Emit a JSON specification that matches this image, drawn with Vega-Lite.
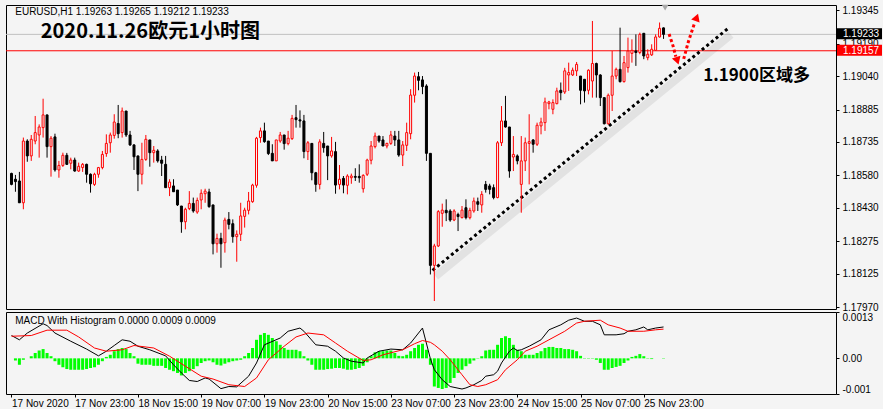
{
  "$schema": "https://vega.github.io/schema/vega-lite/v6.json",
  "background": "#f4f4f4",
  "padding": {"left": 5, "top": 4, "right": 0, "bottom": 0},
  "bounds": "flush",
  "spacing": 3,
  "config": {
    "view": {"stroke": "#000000", "strokeWidth": 1},
    "axis": {"labelFont": "Liberation Sans", "labelFontSize": 10, "labelColor": "#000000", "tickColor": "#000000", "domain": false, "grid": false, "labelOverlap": false, "labelBound": false},
    "text": {"font": "Liberation Sans"}
  },
  "datasets": {
    "bars": [
      {"i":0,"o":1.18589,"h":1.18592,"l":1.18534,"c":1.18538,"m":0},
      {"i":1,"o":1.18562,"h":1.18582,"l":1.18504,"c":1.18551,"m":-0.00006},
      {"i":2,"o":1.18554,"h":1.18596,"l":1.18453,"c":1.18453,"m":-0.00018},
      {"i":3,"o":1.18453,"h":1.18755,"l":1.18423,"c":1.18739,"m":-0.00004},
      {"i":4,"o":1.18739,"h":1.18747,"l":1.18643,"c":1.18670,"m":0},
      {"i":5,"o":1.18670,"h":1.18767,"l":1.18647,"c":1.18747,"m":0.00006},
      {"i":6,"o":1.18739,"h":1.18855,"l":1.18724,"c":1.18778,"m":0.00015},
      {"i":7,"o":1.18767,"h":1.18816,"l":1.18662,"c":1.18804,"m":0.00022},
      {"i":8,"o":1.18801,"h":1.18935,"l":1.18755,"c":1.18860,"m":0.00026},
      {"i":9,"o":1.18860,"h":1.18860,"l":1.18662,"c":1.18713,"m":0.00015},
      {"i":10,"o":1.18713,"h":1.18762,"l":1.18574,"c":1.18752,"m":0.00006},
      {"i":11,"o":1.18758,"h":1.18773,"l":1.18597,"c":1.18605,"m":-0.00008},
      {"i":12,"o":1.18605,"h":1.18647,"l":1.18569,"c":1.18626,"m":-0.00018},
      {"i":13,"o":1.18626,"h":1.18685,"l":1.18619,"c":1.18673,"m":-0.00025},
      {"i":14,"o":1.18673,"h":1.18684,"l":1.18628,"c":1.18631,"m":-0.00030},
      {"i":15,"o":1.18636,"h":1.18662,"l":1.18608,"c":1.18651,"m":-0.00032},
      {"i":16,"o":1.18651,"h":1.18662,"l":1.18597,"c":1.18600,"m":-0.00032},
      {"i":17,"o":1.18600,"h":1.18639,"l":1.18596,"c":1.18622,"m":-0.00032},
      {"i":18,"o":1.18616,"h":1.18637,"l":1.18596,"c":1.18631,"m":-0.00032},
      {"i":19,"o":1.18631,"h":1.18634,"l":1.18546,"c":1.18585,"m":-0.00030},
      {"i":20,"o":1.18585,"h":1.18589,"l":1.18500,"c":1.18541,"m":-0.00027},
      {"i":21,"o":1.18538,"h":1.18592,"l":1.18531,"c":1.18585,"m":-0.00025},
      {"i":22,"o":1.18585,"h":1.18619,"l":1.18569,"c":1.18616,"m":-0.00018},
      {"i":23,"o":1.18616,"h":1.18693,"l":1.18608,"c":1.18677,"m":-0.00008},
      {"i":24,"o":1.18681,"h":1.18770,"l":1.18666,"c":1.18728,"m":0.00004},
      {"i":25,"o":1.18731,"h":1.18778,"l":1.18685,"c":1.18767,"m":0.00010},
      {"i":26,"o":1.18765,"h":1.18863,"l":1.18750,"c":1.18827,"m":0.00020},
      {"i":27,"o":1.18820,"h":1.18906,"l":1.18752,"c":1.18773,"m":0.00026},
      {"i":28,"o":1.18778,"h":1.18894,"l":1.18755,"c":1.18878,"m":0.00029},
      {"i":29,"o":1.18878,"h":1.18878,"l":1.18758,"c":1.18767,"m":0.00026},
      {"i":30,"o":1.18767,"h":1.18786,"l":1.18716,"c":1.18721,"m":0.00015},
      {"i":31,"o":1.18721,"h":1.18724,"l":1.18605,"c":1.18666,"m":0.00006},
      {"i":32,"o":1.18670,"h":1.18670,"l":1.18507,"c":1.18585,"m":-0.00015},
      {"i":33,"o":1.18585,"h":1.18731,"l":1.18538,"c":1.18654,"m":-0.00018},
      {"i":34,"o":1.18654,"h":1.18767,"l":1.18647,"c":1.18747,"m":-0.00018},
      {"i":35,"o":1.18744,"h":1.18744,"l":1.18620,"c":1.18685,"m":-0.00018},
      {"i":36,"o":1.18685,"h":1.18716,"l":1.18639,"c":1.18696,"m":-0.00021},
      {"i":37,"o":1.18693,"h":1.18701,"l":1.18639,"c":1.18647,"m":-0.00021},
      {"i":38,"o":1.18651,"h":1.18670,"l":1.18577,"c":1.18636,"m":-0.00021},
      {"i":39,"o":1.18631,"h":1.18670,"l":1.18523,"c":1.18523,"m":-0.00027},
      {"i":40,"o":1.18523,"h":1.18562,"l":1.18484,"c":1.18549,"m":-0.00032},
      {"i":41,"o":1.18531,"h":1.18562,"l":1.18503,"c":1.18504,"m":-0.00036},
      {"i":42,"o":1.18512,"h":1.18512,"l":1.18438,"c":1.18443,"m":-0.00041},
      {"i":43,"o":1.18438,"h":1.18438,"l":1.18314,"c":1.18365,"m":-0.00048},
      {"i":44,"o":1.18365,"h":1.18430,"l":1.18330,"c":1.18423,"m":-0.00041},
      {"i":45,"o":1.18426,"h":1.18507,"l":1.18419,"c":1.18450,"m":-0.00036},
      {"i":46,"o":1.18450,"h":1.18477,"l":1.18407,"c":1.18415,"m":-0.00030},
      {"i":47,"o":1.18410,"h":1.18477,"l":1.18402,"c":1.18464,"m":-0.00022},
      {"i":48,"o":1.18466,"h":1.18515,"l":1.18423,"c":1.18497,"m":-0.00013},
      {"i":49,"o":1.18495,"h":1.18518,"l":1.18453,"c":1.18507,"m":-0.00008},
      {"i":50,"o":1.18503,"h":1.18518,"l":1.18430,"c":1.18435,"m":-0.00006},
      {"i":51,"o":1.18443,"h":1.18443,"l":1.18214,"c":1.18263,"m":-0.00011},
      {"i":52,"o":1.18263,"h":1.18310,"l":1.18222,"c":1.18288,"m":-0.00018},
      {"i":53,"o":1.18288,"h":1.18314,"l":1.18152,"c":1.18263,"m":-0.00020},
      {"i":54,"o":1.18268,"h":1.18384,"l":1.18222,"c":1.18373,"m":-0.00015},
      {"i":55,"o":1.18376,"h":1.18410,"l":1.18330,"c":1.18353,"m":-0.00011},
      {"i":56,"o":1.18356,"h":1.18376,"l":1.18268,"c":1.18296,"m":-0.00008},
      {"i":57,"o":1.18296,"h":1.18325,"l":1.18180,"c":1.18307,"m":-0.00006},
      {"i":58,"o":1.18307,"h":1.18453,"l":1.18276,"c":1.18392,"m":-0.00004},
      {"i":59,"o":1.18390,"h":1.18430,"l":1.18338,"c":1.18419,"m":0.00006},
      {"i":60,"o":1.18418,"h":1.18503,"l":1.18399,"c":1.18461,"m":0.00015},
      {"i":61,"o":1.18458,"h":1.18541,"l":1.18453,"c":1.18535,"m":0.00029},
      {"i":62,"o":1.18534,"h":1.18758,"l":1.18523,"c":1.18752,"m":0.00052},
      {"i":63,"o":1.18755,"h":1.18801,"l":1.18731,"c":1.18786,"m":0.00066},
      {"i":64,"o":1.18786,"h":1.18824,"l":1.18731,"c":1.18736,"m":0.00071},
      {"i":65,"o":1.18739,"h":1.18739,"l":1.18674,"c":1.18681,"m":0.00066},
      {"i":66,"o":1.18682,"h":1.18724,"l":1.18647,"c":1.18647,"m":0.00057},
      {"i":67,"o":1.18647,"h":1.18744,"l":1.18647,"c":1.18744,"m":0.00048},
      {"i":68,"o":1.18739,"h":1.18781,"l":1.18731,"c":1.18767,"m":0.00038},
      {"i":69,"o":1.18767,"h":1.18767,"l":1.18699,"c":1.18727,"m":0.00029},
      {"i":70,"o":1.18727,"h":1.18786,"l":1.18719,"c":1.18752,"m":0.00024},
      {"i":71,"o":1.18750,"h":1.18860,"l":1.18744,"c":1.18844,"m":0.00024},
      {"i":72,"o":1.18847,"h":1.18906,"l":1.18801,"c":1.18838,"m":0.00024},
      {"i":73,"o":1.18837,"h":1.18881,"l":1.18801,"c":1.18832,"m":0.00020},
      {"i":74,"o":1.18832,"h":1.18860,"l":1.18659,"c":1.18690,"m":0.00006},
      {"i":75,"o":1.18690,"h":1.18739,"l":1.18651,"c":1.18731,"m":-0.00006},
      {"i":76,"o":1.18728,"h":1.18728,"l":1.18557,"c":1.18592,"m":-0.00018},
      {"i":77,"o":1.18592,"h":1.18596,"l":1.18504,"c":1.18538,"m":-0.00032},
      {"i":78,"o":1.18538,"h":1.18747,"l":1.18515,"c":1.18735,"m":-0.00032},
      {"i":79,"o":1.18728,"h":1.18781,"l":1.18685,"c":1.18708,"m":-0.00032},
      {"i":80,"o":1.18716,"h":1.18716,"l":1.18558,"c":1.18670,"m":-0.00030},
      {"i":81,"o":1.18670,"h":1.18758,"l":1.18662,"c":1.18693,"m":-0.00029},
      {"i":82,"o":1.18690,"h":1.18735,"l":1.18495,"c":1.18535,"m":-0.00027},
      {"i":83,"o":1.18538,"h":1.18628,"l":1.18515,"c":1.18562,"m":-0.00027},
      {"i":84,"o":1.18566,"h":1.18577,"l":1.18497,"c":1.18535,"m":-0.00029},
      {"i":85,"o":1.18534,"h":1.18585,"l":1.18492,"c":1.18577,"m":-0.00032},
      {"i":86,"o":1.18569,"h":1.18588,"l":1.18541,"c":1.18577,"m":-0.00032},
      {"i":87,"o":1.18575,"h":1.18613,"l":1.18554,"c":1.18571,"m":-0.00030},
      {"i":88,"o":1.18575,"h":1.18631,"l":1.18546,"c":1.18569,"m":-0.00027},
      {"i":89,"o":1.18518,"h":1.18585,"l":1.18500,"c":1.18580,"m":-0.00021},
      {"i":90,"o":1.18585,"h":1.18657,"l":1.18577,"c":1.18651,"m":-0.00011},
      {"i":91,"o":1.18650,"h":1.18739,"l":1.18631,"c":1.18716,"m":0.00006},
      {"i":92,"o":1.18713,"h":1.18778,"l":1.18705,"c":1.18762,"m":0.00017},
      {"i":93,"o":1.18762,"h":1.18762,"l":1.18731,"c":1.18739,"m":0.00020},
      {"i":94,"o":1.18744,"h":1.18762,"l":1.18716,"c":1.18716,"m":0.00020},
      {"i":95,"o":1.18716,"h":1.18731,"l":1.18705,"c":1.18728,"m":0.00022},
      {"i":96,"o":1.18728,"h":1.18786,"l":1.18721,"c":1.18767,"m":0.00022},
      {"i":97,"o":1.18762,"h":1.18786,"l":1.18716,"c":1.18744,"m":0.00015},
      {"i":98,"o":1.18744,"h":1.18786,"l":1.18666,"c":1.18674,"m":0.00007},
      {"i":99,"o":1.18674,"h":1.18739,"l":1.18623,"c":1.18721,"m":0.00006},
      {"i":100,"o":1.18719,"h":1.18824,"l":1.18693,"c":1.18778,"m":0.00010},
      {"i":101,"o":1.18773,"h":1.18979,"l":1.18747,"c":1.18952,"m":0.00020},
      {"i":102,"o":1.18951,"h":1.19056,"l":1.18917,"c":1.19040,"m":0.00029},
      {"i":103,"o":1.19037,"h":1.19059,"l":1.18974,"c":1.19020,"m":0.00038},
      {"i":104,"o":1.19022,"h":1.19040,"l":1.18956,"c":1.18991,"m":0.00041},
      {"i":105,"o":1.18994,"h":1.19002,"l":1.18647,"c":1.18682,"m":0.00024},
      {"i":106,"o":1.18682,"h":1.18682,"l":1.18121,"c":1.18163,"m":-0.00018},
      {"i":107,"o":1.18163,"h":1.18263,"l":1.17998,"c":1.18253,"m":-0.00079},
      {"i":108,"o":1.18253,"h":1.18419,"l":1.18248,"c":1.18412,"m":-0.00083},
      {"i":109,"o":1.18404,"h":1.18449,"l":1.18342,"c":1.18419,"m":-0.00086},
      {"i":110,"o":1.18418,"h":1.18469,"l":1.18368,"c":1.18407,"m":-0.00083},
      {"i":111,"o":1.18415,"h":1.18423,"l":1.18365,"c":1.18373,"m":-0.00069},
      {"i":112,"o":1.18373,"h":1.18423,"l":1.18368,"c":1.18415,"m":-0.00055},
      {"i":113,"o":1.18399,"h":1.18407,"l":1.18322,"c":1.18389,"m":-0.00041},
      {"i":114,"o":1.18384,"h":1.18438,"l":1.18381,"c":1.18419,"m":-0.00032},
      {"i":115,"o":1.18430,"h":1.18469,"l":1.18376,"c":1.18384,"m":-0.00022},
      {"i":116,"o":1.18384,"h":1.18430,"l":1.18376,"c":1.18418,"m":-0.00015},
      {"i":117,"o":1.18415,"h":1.18477,"l":1.18407,"c":1.18461,"m":-0.00006},
      {"i":118,"o":1.18458,"h":1.18477,"l":1.18415,"c":1.18446,"m":0.00001},
      {"i":119,"o":1.18443,"h":1.18507,"l":1.18407,"c":1.18492,"m":0.00006},
      {"i":120,"o":1.18538,"h":1.18554,"l":1.18500,"c":1.18515,"m":0.00022},
      {"i":121,"o":1.18531,"h":1.18541,"l":1.18492,"c":1.18515,"m":0.00024},
      {"i":122,"o":1.18523,"h":1.18538,"l":1.18469,"c":1.18477,"m":0.00024},
      {"i":123,"o":1.18477,"h":1.18739,"l":1.18474,"c":1.18731,"m":0.00038},
      {"i":124,"o":1.18731,"h":1.18901,"l":1.18716,"c":1.18832,"m":0.00057},
      {"i":125,"o":1.18832,"h":1.18948,"l":1.18801,"c":1.18804,"m":0.00062},
      {"i":126,"o":1.18804,"h":1.18804,"l":1.18569,"c":1.18600,"m":0.00057},
      {"i":127,"o":1.18665,"h":1.18762,"l":1.18600,"c":1.18677,"m":0.00038},
      {"i":128,"o":1.18670,"h":1.18677,"l":1.18631,"c":1.18647,"m":0.00024},
      {"i":129,"o":1.18538,"h":1.18762,"l":1.18407,"c":1.18647,"m":0.00020},
      {"i":130,"o":1.18647,"h":1.18755,"l":1.18600,"c":1.18731,"m":0.00010},
      {"i":131,"o":1.18728,"h":1.18863,"l":1.18538,"c":1.18736,"m":0.00010},
      {"i":132,"o":1.18744,"h":1.18747,"l":1.18685,"c":1.18724,"m":0.00010},
      {"i":133,"o":1.18724,"h":1.18824,"l":1.18716,"c":1.18812,"m":0.00015},
      {"i":134,"o":1.18809,"h":1.18847,"l":1.18770,"c":1.18827,"m":0.00020},
      {"i":135,"o":1.18824,"h":1.18940,"l":1.18786,"c":1.18920,"m":0.00029},
      {"i":136,"o":1.18912,"h":1.18925,"l":1.18886,"c":1.18920,"m":0.00032},
      {"i":137,"o":1.18886,"h":1.18932,"l":1.18863,"c":1.18917,"m":0.00032},
      {"i":138,"o":1.18912,"h":1.18986,"l":1.18909,"c":1.18971,"m":0.00029},
      {"i":139,"o":1.18974,"h":1.19010,"l":1.18928,"c":1.18963,"m":0.00029},
      {"i":140,"o":1.18966,"h":1.19078,"l":1.18957,"c":1.19064,"m":0.00026},
      {"i":141,"o":1.19045,"h":1.19102,"l":1.18971,"c":1.19056,"m":0.00026},
      {"i":142,"o":1.19045,"h":1.19079,"l":1.19040,"c":1.19067,"m":0.00024},
      {"i":143,"o":1.19064,"h":1.19105,"l":1.19040,"c":1.19094,"m":0.00020},
      {"i":144,"o":1.19040,"h":1.19040,"l":1.18909,"c":1.18974,"m":0.00007},
      {"i":145,"o":1.19025,"h":1.19025,"l":1.18917,"c":1.18971,"m":0.00001},
      {"i":146,"o":1.18974,"h":1.19071,"l":1.18955,"c":1.19067,"m":-0.00001},
      {"i":147,"o":1.19017,"h":1.19295,"l":1.18940,"c":1.19098,"m":-0.00001},
      {"i":148,"o":1.19098,"h":1.19102,"l":1.18940,"c":1.19045,"m":-0.00004},
      {"i":149,"o":1.19045,"h":1.19048,"l":1.18901,"c":1.18940,"m":-0.00013},
      {"i":150,"o":1.18940,"h":1.18940,"l":1.18816,"c":1.18819,"m":-0.00032},
      {"i":151,"o":1.18819,"h":1.18959,"l":1.18816,"c":1.18951,"m":-0.00032},
      {"i":152,"o":1.18951,"h":1.19156,"l":1.18878,"c":1.19040,"m":-0.00027},
      {"i":153,"o":1.19040,"h":1.19079,"l":1.19025,"c":1.19071,"m":-0.00024},
      {"i":154,"o":1.19071,"h":1.19264,"l":1.19010,"c":1.19014,"m":-0.00021},
      {"i":155,"o":1.19014,"h":1.19133,"l":1.19010,"c":1.19102,"m":-0.00013},
      {"i":156,"o":1.19079,"h":1.19218,"l":1.19056,"c":1.19156,"m":-0.00006},
      {"i":157,"o":1.19145,"h":1.19210,"l":1.19102,"c":1.19159,"m":0.00004},
      {"i":158,"o":1.19156,"h":1.19233,"l":1.19087,"c":1.19149,"m":0.00007},
      {"i":159,"o":1.19149,"h":1.19241,"l":1.19141,"c":1.19233,"m":0.00012},
      {"i":160,"o":1.19238,"h":1.19238,"l":1.19118,"c":1.19133,"m":0.00006},
      {"i":161,"o":1.19125,"h":1.19164,"l":1.19113,"c":1.19141,"m":0.00001},
      {"i":162,"o":1.19138,"h":1.19187,"l":1.19133,"c":1.19164,"m":-0.00002},
      {"i":163,"o":1.19159,"h":1.19233,"l":1.19156,"c":1.19221,"m":0},
      {"i":164,"o":1.19221,"h":1.19288,"l":1.19218,"c":1.19261,"m":0},
      {"i":165,"o":1.19263,"h":1.19265,"l":1.19212,"c":1.19233,"m":0.00001}
    ],
    "macd": [
      {"i":0,"v":0.00064},{"i":2,"v":0.00052},{"i":4,"v":0.00071},{"i":8,"v":0.00097},{"i":9,"v":0.00092},
      {"i":11,"v":0.00071},{"i":15,"v":0.00048},{"i":19,"v":0.00026},{"i":22,"v":0.00007},{"i":24,"v":0.00020},
      {"i":26,"v":0.00036},{"i":28,"v":0.00052},{"i":30,"v":0.00048},{"i":32,"v":0.00034},{"i":35,"v":0.00024},
      {"i":39,"v":0.00007},{"i":41,"v":-0.00018},{"i":43,"v":-0.00041},{"i":45,"v":-0.00062},{"i":47,"v":-0.00065},
      {"i":49,"v":-0.00055},{"i":50,"v":-0.00058},{"i":53,"v":-0.00085},{"i":55,"v":-0.00079},{"i":57,"v":-0.00080},
      {"i":60,"v":-0.00050},{"i":62,"v":-0.00013},{"i":64,"v":0.00038},{"i":68,"v":0.00057},{"i":70,"v":0.00076},
      {"i":73,"v":0.00085},{"i":74,"v":0.00076},{"i":77,"v":0.00038},{"i":80,"v":0.00034},{"i":82,"v":0.00020},
      {"i":84,"v":0.00001},{"i":86,"v":-0.00008},{"i":89,"v":-0.00013},{"i":90,"v":0.00001},{"i":93,"v":0.00020},
      {"i":96,"v":0.00026},{"i":99,"v":0.00024},{"i":101,"v":0.00043},{"i":104,"v":0.00085},{"i":106,"v":-0.00001},
      {"i":107,"v":-0.00032},{"i":109,"v":-0.00060},{"i":111,"v":-0.00079},{"i":114,"v":-0.00086},{"i":115,"v":-0.00083},
      {"i":117,"v":-0.00074},{"i":119,"v":-0.00062},{"i":120,"v":-0.00050},{"i":122,"v":-0.00046},{"i":123,"v":-0.00036},
      {"i":124,"v":-0.00013},{"i":126,"v":0.00020},{"i":127,"v":0.00029},{"i":128,"v":0.00022},{"i":129,"v":0.00024},
      {"i":131,"v":0.00034},{"i":134,"v":0.00052},{"i":136,"v":0.00080},{"i":139,"v":0.00094},{"i":141,"v":0.00107},
      {"i":143,"v":0.00113},{"i":145,"v":0.00104},{"i":147,"v":0.00104},{"i":149,"v":0.00094},{"i":150,"v":0.00066},
      {"i":153,"v":0.00066},{"i":155,"v":0.00069},{"i":156,"v":0.00076},{"i":158,"v":0.00080},{"i":160,"v":0.00088},
      {"i":161,"v":0.00080},{"i":163,"v":0.00085},{"i":165,"v":0.00088}
    ],
    "sig": [
      {"i":0,"v":0.00062},{"i":5,"v":0.00064},{"i":9,"v":0.00079},{"i":14,"v":0.00079},{"i":17,"v":0.00060},
      {"i":21,"v":0.00029},{"i":24,"v":0.00020},{"i":28,"v":0.00024},{"i":31,"v":0.00036},{"i":36,"v":0.00029},
      {"i":40,"v":0.00006},{"i":44,"v":-0.00022},{"i":48,"v":-0.00050},{"i":51,"v":-0.00058},{"i":55,"v":-0.00074},
      {"i":59,"v":-0.00079},{"i":62,"v":-0.00055},{"i":65,"v":-0.00004},{"i":69,"v":0.00034},{"i":72,"v":0.00060},
      {"i":75,"v":0.00071},{"i":79,"v":0.00066},{"i":82,"v":0.00043},{"i":85,"v":0.00020},{"i":89,"v":-0.00006},
      {"i":91,"v":-0.00004},{"i":94,"v":0.00010},{"i":99,"v":0.00024},{"i":102,"v":0.00041},{"i":104,"v":0.00050},
      {"i":106,"v":0.00045},{"i":107,"v":0.00038},{"i":109,"v":0.00020},{"i":111,"v":-0.00004},{"i":114,"v":-0.00046},
      {"i":116,"v":-0.00074},{"i":118,"v":-0.00079},{"i":120,"v":-0.00074},{"i":123,"v":-0.00060},{"i":125,"v":-0.00032},
      {"i":128,"v":-0.00004},{"i":130,"v":0.00020},{"i":133,"v":0.00034},{"i":136,"v":0.00052},{"i":140,"v":0.00076},
      {"i":143,"v":0.00099},{"i":145,"v":0.00104},{"i":149,"v":0.00107},{"i":151,"v":0.00094},{"i":154,"v":0.00085},
      {"i":156,"v":0.00076},{"i":160,"v":0.00076},{"i":163,"v":0.00080},{"i":165,"v":0.00082}
    ]
  },
  "vconcat": [
    {
      "width": 830,
      "height": 304,
      "layer": [
        {
          "data": {"values": [{"p": 1.19233}]},
          "mark": {"type": "rule", "color": "#c0c0c0", "strokeWidth": 1},
          "encoding": {"y": {"field": "p", "type": "quantitative", "scale": {"domain": [1.17961, 1.19369], "nice": false, "zero": false}}}
        },
        {
          "data": {"values": [{"p": 1.19157}]},
          "mark": {"type": "rule", "color": "#ff0000", "strokeWidth": 1},
          "encoding": {"y": {"field": "p", "type": "quantitative", "scale": {"domain": [1.17961, 1.19369], "nice": false, "zero": false}}}
        },
        {
          "data": {"values": [{"i": 106.55, "p": 1.1814}, {"i": 181.3, "p": 1.1926}]},
          "mark": {"type": "line", "stroke": "#000000", "strokeWidth": 8, "opacity": 0.07, "xOffset": 3, "yOffset": 6},
          "encoding": {
            "x": {"field": "i", "type": "quantitative", "scale": {"domain": [-0.125, 207.375], "nice": false, "zero": false}, "axis": null},
            "y": {"field": "p", "type": "quantitative", "scale": {"domain": [1.17961, 1.19369], "nice": false, "zero": false}}
          }
        },
        {
          "data": {"values": [{"i": 106.55, "p": 1.1814}, {"i": 181.3, "p": 1.1926}]},
          "mark": {"type": "line", "stroke": "#000000", "strokeWidth": 3, "strokeDash": [3, 3], "strokeCap": "butt"},
          "encoding": {
            "x": {"field": "i", "type": "quantitative", "scale": {"domain": [-0.125, 207.375], "nice": false, "zero": false}, "axis": null},
            "y": {"field": "p", "type": "quantitative", "scale": {"domain": [1.17961, 1.19369], "nice": false, "zero": false}}
          }
        },
        {
          "data": {"name": "bars"},
          "mark": {"type": "rule", "strokeWidth": 1, "clip": true},
          "encoding": {
            "x": {"field": "i", "type": "quantitative", "scale": {"domain": [-0.125, 207.375], "nice": false, "zero": false}, "axis": null},
            "y": {
              "field": "l", "type": "quantitative",
              "scale": {"domain": [1.17961, 1.19369], "nice": false, "zero": false},
              "axis": {
                "orient": "right", "title": null, "format": ".5f",
                "values": [1.1797, 1.18125, 1.18275, 1.1843, 1.1858, 1.18735, 1.18885, 1.1904, 1.1919, 1.19345],
                "tickCount": 20,
                "tickSize": 3, "labelPadding": 3, "labelFlush": false, "labelBound": false, "labelOverlap": false
              }
            },
            "y2": {"field": "h"},
            "color": {"condition": {"test": "datum.c >= datum.o", "value": "#ff0000"}, "value": "#000000"}
          }
        },
        {
          "data": {"name": "bars"},
          "mark": {"type": "bar", "size": 2, "strokeWidth": 1, "clip": true},
          "encoding": {
            "x": {"field": "i", "type": "quantitative", "scale": {"domain": [-0.125, 207.375], "nice": false, "zero": false}, "axis": null},
            "y": {"field": "o", "type": "quantitative", "scale": {"domain": [1.17961, 1.19369], "nice": false, "zero": false}},
            "y2": {"field": "c"},
            "fill": {"condition": {"test": "datum.c >= datum.o", "value": "#f4f4f4"}, "value": "#000000"},
            "stroke": {"condition": {"test": "datum.c >= datum.o", "value": "#ff0000"}, "value": "#000000"}
          }
        },
        {
          "data": {"values": [
            {"g": 1, "i": 166.4, "p": 1.19235}, {"g": 1, "i": 167.4, "p": 1.1918}, {"g": 1, "i": 168.1, "p": 1.1913},
            {"g": 2, "i": 170.1, "p": 1.19119}, {"g": 2, "i": 171.3, "p": 1.192}, {"g": 2, "i": 172.9, "p": 1.19288}
          ]},
          "mark": {"type": "line", "stroke": "#ff0000", "strokeWidth": 3, "strokeDash": [3, 2.5], "strokeCap": "butt"},
          "encoding": {
            "x": {"field": "i", "type": "quantitative", "scale": {"domain": [-0.125, 207.375], "nice": false, "zero": false}, "axis": null},
            "y": {"field": "p", "type": "quantitative", "scale": {"domain": [1.17961, 1.19369], "nice": false, "zero": false}},
            "detail": {"field": "g", "type": "nominal"}
          }
        },
        {
          "data": {"values": [{"i": 168.5, "p": 1.1911}]},
          "mark": {"type": "point", "shape": "triangle-up", "angle": 162, "size": 80, "filled": true, "color": "#ff0000", "opacity": 1},
          "encoding": {
            "x": {"field": "i", "type": "quantitative", "scale": {"domain": [-0.125, 207.375], "nice": false, "zero": false}, "axis": null},
            "y": {"field": "p", "type": "quantitative", "scale": {"domain": [1.17961, 1.19369], "nice": false, "zero": false}}
          }
        },
        {
          "data": {"values": [{"i": 173.4, "p": 1.19312}]},
          "mark": {"type": "point", "shape": "triangle-up", "angle": 20, "size": 80, "filled": true, "color": "#ff0000", "opacity": 1},
          "encoding": {
            "x": {"field": "i", "type": "quantitative", "scale": {"domain": [-0.125, 207.375], "nice": false, "zero": false}, "axis": null},
            "y": {"field": "p", "type": "quantitative", "scale": {"domain": [1.17961, 1.19369], "nice": false, "zero": false}}
          }
        },
        {
          "data": {"values": [{"i": 165.4, "p": 1.19357}]},
          "mark": {"type": "point", "shape": "triangle-down", "size": 45, "filled": true, "color": "#a8a8a8", "opacity": 1},
          "encoding": {
            "x": {"field": "i", "type": "quantitative", "scale": {"domain": [-0.125, 207.375], "nice": false, "zero": false}, "axis": null},
            "y": {"field": "p", "type": "quantitative", "scale": {"domain": [1.17961, 1.19369], "nice": false, "zero": false}}
          }
        },
        {
          "data": {"values": [{"i": 0.95, "p": 1.19337, "t": "EURUSD,H1  1.19263 1.19265 1.19212 1.19233"}]},
          "mark": {"type": "text", "align": "left", "baseline": "middle", "font": "Liberation Sans", "fontSize": 10, "color": "#000000"},
          "encoding": {
            "x": {"field": "i", "type": "quantitative", "scale": {"domain": [-0.125, 207.375], "nice": false, "zero": false}, "axis": null},
            "y": {"field": "p", "type": "quantitative", "scale": {"domain": [1.17961, 1.19369], "nice": false, "zero": false}},
            "text": {"field": "t"}
          }
        },
        {
          "data": {"values": [{"i": 7.4, "p": 1.19246, "t": "2020.11.26欧元1小时图"}]},
          "mark": {"type": "text", "align": "left", "baseline": "middle", "font": "Noto Sans CJK SC", "fontWeight": "bold", "fontSize": 20, "color": "#000000"},
          "encoding": {
            "x": {"field": "i", "type": "quantitative", "scale": {"domain": [-0.125, 207.375], "nice": false, "zero": false}, "axis": null},
            "y": {"field": "p", "type": "quantitative", "scale": {"domain": [1.17961, 1.19369], "nice": false, "zero": false}},
            "text": {"field": "t"}
          }
        },
        {
          "data": {"values": [{"i": 175.05, "p": 1.1904, "t": "1.1900区域多"}]},
          "mark": {"type": "text", "align": "left", "baseline": "middle", "font": "Noto Sans CJK SC", "fontWeight": "bold", "fontSize": 17, "color": "#000000"},
          "encoding": {
            "x": {"field": "i", "type": "quantitative", "scale": {"domain": [-0.125, 207.375], "nice": false, "zero": false}, "axis": null},
            "y": {"field": "p", "type": "quantitative", "scale": {"domain": [1.17961, 1.19369], "nice": false, "zero": false}},
            "text": {"field": "t"}
          }
        },
        {
          "data": {"values": [{"p": 1.19233}]},
          "mark": {"type": "rect", "color": "#000000", "xOffset": 1, "x2Offset": 46, "yOffset": -6, "y2Offset": 5},
          "encoding": {
            "x": {"value": "width"},
            "x2": {"value": "width"},
            "y": {"field": "p", "type": "quantitative", "scale": {"domain": [1.17961, 1.19369], "nice": false, "zero": false}},
            "y2": {"field": "p"}
          }
        },
        {
          "data": {"values": [{"p": 1.19157}]},
          "mark": {"type": "rect", "color": "#ff0000", "xOffset": 1, "x2Offset": 46, "yOffset": -6, "y2Offset": 5},
          "encoding": {
            "x": {"value": "width"},
            "x2": {"value": "width"},
            "y": {"field": "p", "type": "quantitative", "scale": {"domain": [1.17961, 1.19369], "nice": false, "zero": false}},
            "y2": {"field": "p"}
          }
        },
        {
          "data": {"values": [{"p": 1.19233, "t": "1.19233"}, {"p": 1.19157, "t": "1.19157"}]},
          "mark": {"type": "text", "align": "left", "baseline": "middle", "dx": 7, "font": "Liberation Sans", "fontSize": 10, "color": "#ffffff"},
          "encoding": {
            "x": {"value": "width"},
            "y": {"field": "p", "type": "quantitative", "scale": {"domain": [1.17961, 1.19369], "nice": false, "zero": false}},
            "text": {"field": "t"}
          }
        }
      ]
    },
    {
      "width": 830,
      "height": 82,
      "layer": [
        {
          "data": {"name": "bars"},
          "mark": {"type": "bar", "size": 3, "color": "#00ff00", "clip": true},
          "encoding": {
            "x": {
              "field": "i", "type": "quantitative",
              "scale": {"domain": [-0.125, 207.375], "nice": false, "zero": false},
              "axis": {
                "orient": "bottom", "title": null,
                "values": [0, 16, 32, 48, 64, 80, 96, 112, 128, 144, 160],
                "tickCount": 20,
                "labelExpr": "['17 Nov 2020','17 Nov 23:00','18 Nov 15:00','19 Nov 07:00','19 Nov 23:00','20 Nov 15:00','23 Nov 07:00','23 Nov 23:00','24 Nov 15:00','25 Nov 07:00','25 Nov 23:00'][round(datum.value / 16)]",
                "labelAlign": "left", "labelFlush": false, "labelBound": false, "labelOverlap": false,
                "tickSize": 3, "labelPadding": 1
              }
            },
            "y": {
              "field": "m", "type": "quantitative",
              "scale": {"domain": [-0.001, 0.0013], "nice": false, "zero": false},
              "axis": {
                "orient": "right", "title": null,
                "values": [-0.001, 0, 0.0013],
                "tickCount": 5,
                "labelExpr": "datum.value > 0.001 ? '0.0013' : (datum.value < 0 ? '-0.001' : '0.00')",
                "labelFlush": true, "tickSize": 3, "labelPadding": 3, "labelOverlap": false
              }
            },
            "y2": {"datum": 0}
          }
        },
        {
          "data": {"name": "macd"},
          "mark": {"type": "line", "stroke": "#000000", "strokeWidth": 1},
          "encoding": {
            "x": {"field": "i", "type": "quantitative", "scale": {"domain": [-0.125, 207.375], "nice": false, "zero": false}},
            "y": {"field": "v", "type": "quantitative", "scale": {"domain": [-0.001, 0.0013], "nice": false, "zero": false}}
          }
        },
        {
          "data": {"name": "sig"},
          "mark": {"type": "line", "stroke": "#ff0000", "strokeWidth": 1},
          "encoding": {
            "x": {"field": "i", "type": "quantitative", "scale": {"domain": [-0.125, 207.375], "nice": false, "zero": false}},
            "y": {"field": "v", "type": "quantitative", "scale": {"domain": [-0.001, 0.0013], "nice": false, "zero": false}}
          }
        },
        {
          "data": {"values": [{"i": 0.95, "v": 0.00104, "t": "MACD With Histogram 0.0000 0.0009 0.0009"}]},
          "mark": {"type": "text", "align": "left", "baseline": "middle", "font": "Liberation Sans", "fontSize": 10, "color": "#000000"},
          "encoding": {
            "x": {"field": "i", "type": "quantitative", "scale": {"domain": [-0.125, 207.375], "nice": false, "zero": false}},
            "y": {"field": "v", "type": "quantitative", "scale": {"domain": [-0.001, 0.0013], "nice": false, "zero": false}},
            "text": {"field": "t"}
          }
        }
      ]
    }
  ]
}
